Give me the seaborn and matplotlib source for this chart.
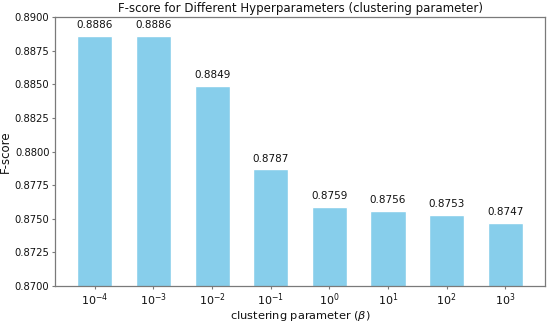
import pandas as pd
import seaborn as sns
import matplotlib.pyplot as plt
from matplotlib.ticker import MultipleLocator, FormatStrFormatter

betas = ["$10^{-4}$", "$10^{-3}$", "$10^{-2}$", "$10^{-1}$",
         "$10^{0}$", "$10^{1}$", "$10^{2}$", "$10^{3}$"]
fscores = [0.8886, 0.8886, 0.8849, 0.8787, 0.8759, 0.8756, 0.8753, 0.8747]

df = pd.DataFrame({"beta": betas, "F-score": fscores})

sns.set_style("white")
plt.rcParams["font.family"] = ["DejaVu Sans"]

fig = plt.figure(figsize=(5.5, 3.25), dpi=100)
ax = sns.barplot(data=df, x="beta", y="F-score", color="#87CEEB",
                 width=0.6, saturation=1)

for container in ax.containers:
    ax.bar_label(container, fmt="%.4f", fontsize=7.5, padding=4, color="#111111")

ax.set_xlim(-0.68, 7.68)
ax.set_ylim(0.87, 0.89)
ax.yaxis.set_major_locator(MultipleLocator(0.0025))
ax.yaxis.set_major_formatter(FormatStrFormatter("%.4f"))
for s in ax.spines.values():
    s.set_color("#7a7a7a")
    s.set_linewidth(0.9)
ax.tick_params(axis="both", length=2.5, width=0.8, color="#7a7a7a",
               pad=1.5, labelcolor="#111111", bottom=True, left=True)
ax.tick_params(axis="y", labelsize=7.2)
ax.tick_params(axis="x", labelsize=8)
ax.set_xlabel(r"clustering parameter ($\beta$)", fontsize=8.2, labelpad=0.5, color="#111111")
ax.set_ylabel("F-score", fontsize=8.5, labelpad=2, color="#111111")
ax.set_title("F-score for Different Hyperparameters (clustering parameter)",
             fontsize=8.5, pad=4, color="#111111")

plt.subplots_adjust(left=0.1, right=0.991, top=0.947, bottom=0.12)
plt.savefig("out.png", dpi=100)
